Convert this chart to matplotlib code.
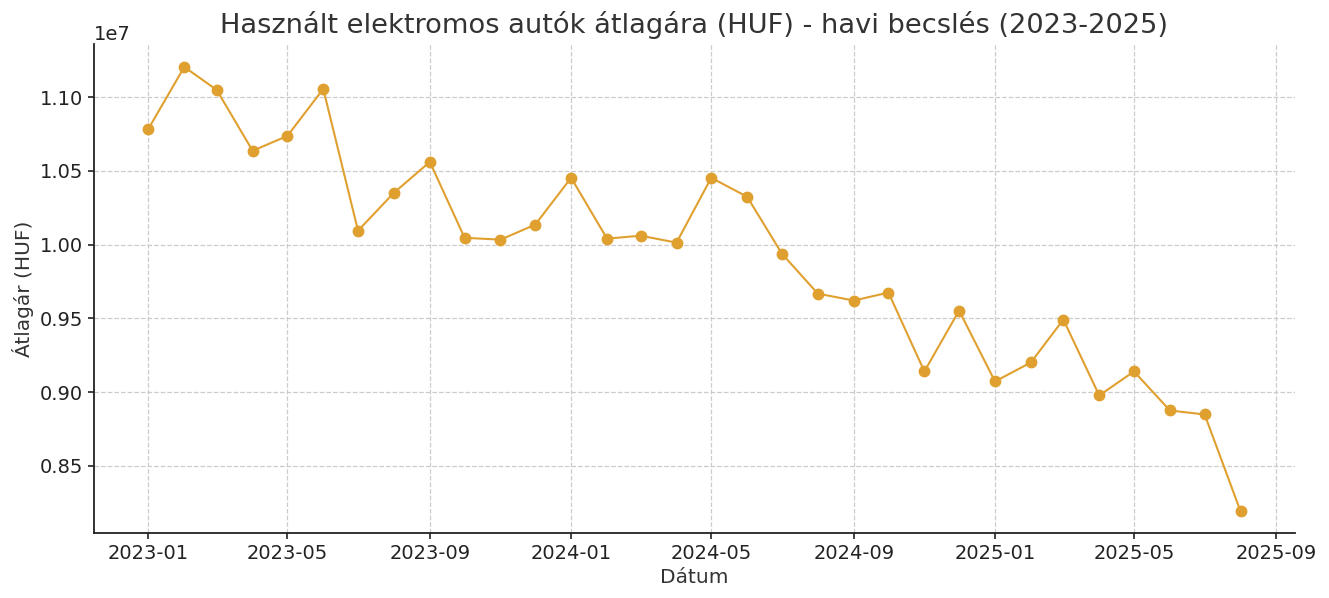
import numpy as np
import pandas as pd
import matplotlib
matplotlib.use("Agg")
import matplotlib.pyplot as plt
import matplotlib.dates as mdates

# monthly estimated average price (HUF)
months = pd.date_range("2023-01-01", "2025-08-01", freq="MS")
prices = [
    10786000, 11206000, 11050000, 10637000, 10738000, 11057000,
    10095000, 10352000, 10562000, 10047000, 10034000, 10136000,
    10454000, 10041000, 10061000, 10014000, 10454000, 10325000,
    9939000, 9668000, 9621000, 9675000, 9140000, 9553000,
    9072000, 9201000, 9492000, 8977000, 9140000, 8875000,
    8848000, 8191000,
]

title = "Használt elektromos autók átlagára (HUF) - havi becslés (2023-2025)"
xlabel = "Dátum"
ylabel = "Átlagár (HUF)"

plt.rcParams['font.family'] = ['DejaVu Sans']
fig = plt.figure(figsize=(13.29, 5.98), dpi=100)
ax = fig.add_subplot(111)
fig.subplots_adjust(left=0.0707, right=0.9744, top=0.926, bottom=0.109)

ax.plot(months, prices, marker='o', color='#E0A030', linewidth=1.5, markersize=7.5)

ax.set_title(title, fontsize=19.6, color='#333333', pad=8)
ax.set_xlabel(xlabel, fontsize=14.5, color='#333333')
ax.set_ylabel(ylabel, fontsize=14.5, color='#333333')

ax.xaxis.set_major_locator(mdates.MonthLocator(bymonth=[1, 5, 9]))
ax.xaxis.set_major_formatter(mdates.DateFormatter('%Y-%m'))
ax.set_xlim(pd.Timestamp("2022-11-15"), pd.Timestamp("2025-09-17"))
ax.set_ylim(8.045e6, 11.36e6)
ax.set_yticks([8.5e6, 9.0e6, 9.5e6, 1.0e7, 1.05e7, 1.1e7])

ax.tick_params(labelsize=14, colors='#222222', length=4.5, width=1.2)
ax.yaxis.get_offset_text().set_fontsize(14)
ax.grid(True, linestyle='--', color='#cccccc', linewidth=0.9)
for s in ['top', 'right']:
    ax.spines[s].set_visible(False)
for s in ['left', 'bottom']:
    ax.spines[s].set_linewidth(1.3)
    ax.spines[s].set_color('#222222')

fig.savefig("out.png", dpi=100)
